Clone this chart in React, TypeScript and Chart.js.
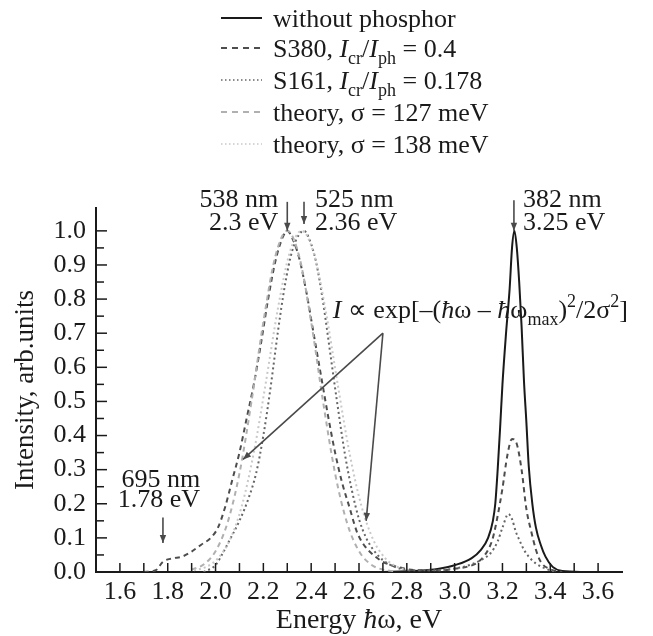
import React, { useEffect, useRef } from 'react';
import { Chart, registerables } from 'chart.js';

Chart.register(...registerables);

const FONT = "'Liberation Serif', 'Times New Roman', serif";

// ---- data (energy in eV, intensity arb. units) ----
const noPhosphorX = [2.70, 2.80, 2.88, 2.94, 3.00, 3.07, 3.11, 3.14, 3.16, 3.17, 3.18, 3.19, 3.20, 3.215, 3.23, 3.24, 3.25, 3.26, 3.27, 3.28, 3.29, 3.30, 3.31, 3.325, 3.34, 3.36, 3.38, 3.41, 3.45, 3.55];
const noPhosphorY = [0, 0.002, 0.005, 0.01, 0.02, 0.04, 0.065, 0.10, 0.15, 0.20, 0.30, 0.42, 0.55, 0.70, 0.83, 0.95, 1.0, 0.95, 0.85, 0.72, 0.56, 0.44, 0.31, 0.20, 0.13, 0.08, 0.045, 0.015, 0.003, 0];

const s380X = [1.70, 1.75, 1.78, 1.82, 1.86, 1.90, 1.94, 1.98, 2.01, 2.04, 2.07, 2.10, 2.13, 2.16, 2.19, 2.22, 2.25, 2.28, 2.30, 2.32, 2.35, 2.38, 2.41, 2.44, 2.47, 2.50, 2.53, 2.56, 2.59, 2.62, 2.66, 2.70, 2.76, 2.85, 2.95, 3.00, 3.05, 3.10, 3.14, 3.16, 3.18, 3.20, 3.22, 3.24, 3.26, 3.28, 3.30, 3.32, 3.34, 3.36, 3.40, 3.45];
const s380Y = [0, 0.005, 0.03, 0.04, 0.045, 0.06, 0.08, 0.10, 0.13, 0.19, 0.27, 0.35, 0.45, 0.55, 0.67, 0.80, 0.91, 0.98, 1.0, 0.98, 0.92, 0.82, 0.70, 0.58, 0.46, 0.35, 0.26, 0.19, 0.12, 0.08, 0.05, 0.03, 0.015, 0.005, 0.005, 0.01, 0.015, 0.03, 0.065, 0.10, 0.165, 0.245, 0.34, 0.39, 0.375, 0.30, 0.185, 0.12, 0.065, 0.03, 0.008, 0];

const s161X = [1.95, 2.00, 2.03, 2.06, 2.10, 2.14, 2.17, 2.20, 2.23, 2.26, 2.29, 2.32, 2.35, 2.37, 2.39, 2.42, 2.45, 2.48, 2.51, 2.54, 2.57, 2.60, 2.63, 2.66, 2.70, 2.75, 2.82, 2.92, 3.00, 3.06, 3.11, 3.15, 3.18, 3.20, 3.225, 3.24, 3.255, 3.27, 3.29, 3.31, 3.34, 3.38, 3.42];
const s161Y = [0, 0.02, 0.055, 0.095, 0.15, 0.22, 0.29, 0.40, 0.54, 0.70, 0.84, 0.94, 0.99, 1.0, 0.98, 0.91, 0.79, 0.64, 0.49, 0.35, 0.24, 0.155, 0.10, 0.065, 0.035, 0.015, 0.005, 0.005, 0.01, 0.02, 0.035, 0.055, 0.09, 0.13, 0.17, 0.155, 0.12, 0.095, 0.065, 0.045, 0.025, 0.01, 0];

const theory127X = [1.90, 1.95, 2.00, 2.05, 2.10, 2.15, 2.20, 2.25, 2.30, 2.35, 2.40, 2.45, 2.50, 2.55, 2.60, 2.65, 2.70, 2.75];
const theory127Y = [0.007, 0.022, 0.061, 0.144, 0.289, 0.498, 0.733, 0.925, 1.0, 0.925, 0.733, 0.498, 0.289, 0.144, 0.061, 0.022, 0.007, 0.002];

const theory138X = [1.91, 1.96, 2.01, 2.06, 2.11, 2.16, 2.21, 2.26, 2.31, 2.36, 2.41, 2.46, 2.51, 2.56, 2.61, 2.66, 2.71, 2.76, 2.81];
const theory138Y = [0.005, 0.015, 0.040, 0.094, 0.194, 0.350, 0.554, 0.769, 0.936, 1.0, 0.936, 0.769, 0.554, 0.350, 0.194, 0.094, 0.040, 0.015, 0.005];

const xMin = 1.5;
const xMax = 3.7;
const yMin = 0;
const yMax = 1.067;

type Seg = { t: string; it?: boolean; sub?: boolean; sup?: boolean };

const zip = (xs: number[], ys: number[]) => xs.map((x, i) => ({ x, y: ys[i] }));

function rich(ctx: CanvasRenderingContext2D, segs: Seg[], x: number, y: number, size: number, align: 'left' | 'right' | 'center') {
  const small = Math.round(size * 0.7);
  const fontOf = (s: Seg) => `${s.it ? 'italic ' : ''}${s.sub || s.sup ? small : size}px ${FONT}`;
  let w = 0;
  segs.forEach((s) => { ctx.font = fontOf(s); w += ctx.measureText(s.t).width; });
  let cx = align === 'left' ? x : align === 'right' ? x - w : x - w / 2;
  ctx.textAlign = 'left';
  ctx.textBaseline = 'alphabetic';
  segs.forEach((s) => {
    ctx.font = fontOf(s);
    const dy = s.sub ? size * 0.27 : s.sup ? -size * 0.4 : 0;
    ctx.fillText(s.t, cx, y + dy);
    cx += ctx.measureText(s.t).width;
  });
}

function arrow(ctx: CanvasRenderingContext2D, x1: number, y1: number, x2: number, y2: number, color: string) {
  ctx.strokeStyle = color;
  ctx.fillStyle = color;
  ctx.lineWidth = 1.6;
  ctx.setLineDash([]);
  ctx.beginPath();
  ctx.moveTo(x1, y1);
  ctx.lineTo(x2, y2);
  ctx.stroke();
  const a = Math.atan2(y2 - y1, x2 - x1);
  const L = 8, W = 3.2;
  ctx.beginPath();
  ctx.moveTo(x2, y2);
  ctx.lineTo(x2 - L * Math.cos(a) + W * Math.sin(a), y2 - L * Math.sin(a) - W * Math.cos(a));
  ctx.lineTo(x2 - L * Math.cos(a) - W * Math.sin(a), y2 - L * Math.sin(a) + W * Math.cos(a));
  ctx.closePath();
  ctx.fill();
}

const annotPlugin = {
  id: 'annot',
  afterDraw(chart: any) {
    const { ctx, chartArea } = chart;
    const xs = chart.scales.x;
    const ys = chart.scales.y;
    const px = (v: number) => xs.getPixelForValue(v);
    const py = (v: number) => ys.getPixelForValue(v);
    ctx.save();

    // inward tick marks
    ctx.strokeStyle = '#1a1a1a';
    ctx.lineWidth = 1.5;
    ctx.setLineDash([]);
    xs.ticks.forEach((t: any) => {
      const X = px(t.value);
      if (X < chartArea.left + 2 || X > chartArea.right - 2) return;
      ctx.beginPath();
      ctx.moveTo(X, chartArea.bottom);
      ctx.lineTo(X, chartArea.bottom - 9);
      ctx.stroke();
    });
    ys.ticks.forEach((t: any) => {
      const Y = py(t.value);
      if (Y > chartArea.bottom - 2) return;
      const major = Math.abs(Math.round(t.value * 10) - t.value * 10) < 1e-6;
      ctx.beginPath();
      ctx.moveTo(chartArea.left, Y);
      ctx.lineTo(chartArea.left + (major ? 11 : 8), Y);
      ctx.stroke();
    });

    // x title
    ctx.fillStyle = '#1a1a1a';
    rich(ctx, [{ t: 'Energy ' }, { t: 'ħ', it: true }, { t: 'ω, eV' }], (chartArea.left + chartArea.right) / 2, 628, 28, 'center');

    // legend
    const legendRows: { y: number; color: string; dash: number[]; width: number; segs: Seg[] }[] = [
      { y: 27, color: '#1a1a1a', dash: [], width: 2, segs: [{ t: 'without phosphor' }] },
      { y: 57, color: '#4d4d4d', dash: [6, 5], width: 2, segs: [{ t: 'S380, ' }, { t: 'I', it: true }, { t: 'cr', sub: true }, { t: '/' }, { t: 'I', it: true }, { t: 'ph', sub: true }, { t: ' = 0.4' }] },
      { y: 89, color: '#666666', dash: [1.5, 2.5], width: 1.5, segs: [{ t: 'S161, ' }, { t: 'I', it: true }, { t: 'cr', sub: true }, { t: '/' }, { t: 'I', it: true }, { t: 'ph', sub: true }, { t: ' = 0.178' }] },
      { y: 121, color: '#b0b0b0', dash: [6, 5], width: 2, segs: [{ t: 'theory, σ = 127 meV' }] },
      { y: 153, color: '#c8c8c8', dash: [1.5, 2.5], width: 1.5, segs: [{ t: 'theory, σ = 138 meV' }] },
    ];
    legendRows.forEach((r) => {
      ctx.strokeStyle = r.color;
      ctx.lineWidth = r.width;
      ctx.setLineDash(r.dash);
      ctx.beginPath();
      ctx.moveTo(221, r.y - 9);
      ctx.lineTo(262, r.y - 9);
      ctx.stroke();
      ctx.setLineDash([]);
      ctx.fillStyle = '#1a1a1a';
      rich(ctx, r.segs, 273, r.y, 26, 'left');
    });

    // peak arrows and labels
    const arrowColor = '#4a4a4a';
    const top = py(1.0);
    arrow(ctx, px(2.30), py(1.085), px(2.30), py(1.0), arrowColor);
    arrow(ctx, px(2.37), py(1.085), px(2.37), py(1.02), arrowColor);
    arrow(ctx, px(3.248), py(1.09), px(3.248), py(1.0), arrowColor);
    arrow(ctx, px(1.78), py(0.16), px(1.78), py(0.085), arrowColor);

    ctx.fillStyle = '#1a1a1a';
    rich(ctx, [{ t: '538 nm' }], px(2.30) - 9, top - 24, 26, 'right');
    rich(ctx, [{ t: '2.3 eV' }], px(2.30) - 9, top - 1, 26, 'right');
    rich(ctx, [{ t: '525 nm' }], px(2.37) + 11, top - 24, 26, 'left');
    rich(ctx, [{ t: '2.36 eV' }], px(2.37) + 11, top - 1, 26, 'left');
    rich(ctx, [{ t: '382 nm' }], px(3.248) + 9, top - 24, 26, 'left');
    rich(ctx, [{ t: '3.25 eV' }], px(3.248) + 9, top - 1, 26, 'left');
    rich(ctx, [{ t: '695 nm' }], px(1.78) - 2, py(0.25), 26, 'center');
    rich(ctx, [{ t: '1.78 eV' }], px(1.78) - 4, py(0.19), 26, 'center');

    // formula and its arrows
    rich(ctx, [
      { t: 'I', it: true }, { t: ' ∝ exp[–(' }, { t: 'ħ', it: true }, { t: 'ω – ' }, { t: 'ħ', it: true }, { t: 'ω' },
      { t: 'max', sub: true }, { t: ')' }, { t: '2', sup: true }, { t: '/2σ' }, { t: '2', sup: true }, { t: ']' },
    ], px(2.49), py(0.745), 26, 'left');
    arrow(ctx, px(2.70), py(0.70), px(2.115), py(0.33), arrowColor);
    arrow(ctx, px(2.70), py(0.70), px(2.63), py(0.15), arrowColor);

    ctx.restore();
  },
};

export default function App() {
  const canvasRef = useRef<HTMLCanvasElement | null>(null);

  useEffect(() => {
    const canvas = canvasRef.current;
    if (!canvas) return;
    const chart = new Chart(canvas, {
      type: 'line',
      data: {
        datasets: [
          { label: 'theory, σ = 138 meV', data: zip(theory138X, theory138Y), borderColor: '#c8c8c8', borderWidth: 2, borderDash: [2, 3], pointRadius: 0, cubicInterpolationMode: 'monotone', fill: false },
          { label: 'theory, σ = 127 meV', data: zip(theory127X, theory127Y), borderColor: '#b0b0b0', borderWidth: 2, borderDash: [5, 4], pointRadius: 0, cubicInterpolationMode: 'monotone', fill: false },
          { label: 'S161', data: zip(s161X, s161Y), borderColor: '#666666', borderWidth: 2, borderDash: [2, 3], pointRadius: 0, cubicInterpolationMode: 'monotone', fill: false },
          { label: 'S380', data: zip(s380X, s380Y), borderColor: '#4d4d4d', borderWidth: 2, borderDash: [5, 4], pointRadius: 0, cubicInterpolationMode: 'monotone', fill: false },
          { label: 'without phosphor', data: zip(noPhosphorX, noPhosphorY), borderColor: '#1a1a1a', borderWidth: 2, pointRadius: 0, cubicInterpolationMode: 'monotone', fill: false },
        ],
      },
      options: {
        responsive: false,
        devicePixelRatio: 1,
        animation: false,
        layout: { padding: { top: 208, right: 31, bottom: 0, left: 0 } },
        plugins: { legend: { display: false }, tooltip: { enabled: false } },
        scales: {
          x: {
            type: 'linear',
            min: xMin,
            max: xMax,
            grid: { display: false, drawTicks: false, tickLength: 0 },
            border: { display: true, color: '#1a1a1a', width: 2 },
            ticks: {
              stepSize: 0.1,
              autoSkip: false,
              maxRotation: 0,
              padding: 5,
              color: '#1a1a1a',
              font: { family: FONT, size: 26, lineHeight: 1.2 },
              callback: (v: any) => {
                const n = Math.round(Number(v) * 10);
                if (n % 2 !== 0 || n < 16 || n > 36) return '';
                return (n / 10).toFixed(1);
              },
            },
            afterFit: (scale: any) => { scale.height = 64; },
          },
          y: {
            type: 'linear',
            min: yMin,
            max: yMax,
            grid: { display: false, drawTicks: false, tickLength: 0 },
            border: { display: true, color: '#1a1a1a', width: 2 },
            title: { display: true, text: 'Intensity, arb.units', color: '#1a1a1a', font: { family: FONT, size: 27, lineHeight: 1.2 }, padding: { top: 10, bottom: 0 } },
            ticks: {
              stepSize: 0.05,
              autoSkip: false,
              padding: 10,
              color: '#1a1a1a',
              font: { family: FONT, size: 26, lineHeight: 1.2 },
              callback: (v: any) => {
                const n = Math.round(Number(v) * 100);
                if (n % 10 !== 0) return '';
                return (n / 100).toFixed(1);
              },
            },
            afterBuildTicks: (scale: any) => {
              scale.ticks = scale.ticks.filter((t: any) => t.value <= 1.0001);
            },
            afterFit: (scale: any) => { scale.width = 96; },
          },
        },
      },
      plugins: [annotPlugin],
    } as any);
    return () => chart.destroy();
  }, []);

  return (
    <div style={{ position: 'fixed', left: 0, top: 0, width: 653, height: 636, background: '#fff' }}>
      <canvas ref={canvasRef} width={653} height={636} style={{ display: 'block', width: 653, height: 636 }} />
    </div>
  );
}
